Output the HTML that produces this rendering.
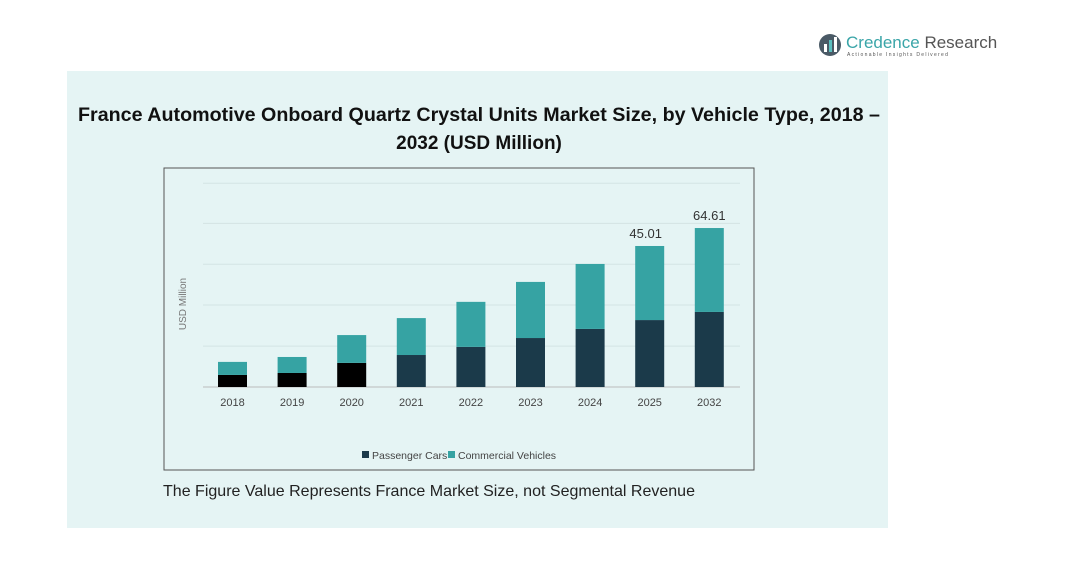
<!DOCTYPE html>
<html><head><meta charset="utf-8">
<style>
html,body{margin:0;padding:0;background:#fff;width:1081px;height:562px;overflow:hidden;font-family:"Liberation Sans",sans-serif;}
</style></head>
<body>
<svg width="1081" height="562" viewBox="0 0 1081 562" xmlns="http://www.w3.org/2000/svg">
  <g>
    <circle cx="830" cy="45" r="11" fill="#4a5a66"/>
    <rect x="824" y="44" width="3" height="8" fill="#fff"/>
    <rect x="829" y="40" width="3" height="12" fill="#5bc0c0"/>
    <rect x="834" y="37" width="3" height="15" fill="#fff"/>
    <text x="846" y="48" font-size="17" fill="#3aa5a8">Credence <tspan fill="#555">Research</tspan></text>
    <text x="847" y="56" font-size="5" fill="#555" letter-spacing="1.3">Actionable Insights Delivered</text>
  </g>
  <rect x="67" y="71" width="821" height="457" fill="#e5f4f4"/>
  <text x="479" y="121" text-anchor="middle" font-size="19" font-weight="bold" fill="#111" textLength="802" lengthAdjust="spacingAndGlyphs">France Automotive Onboard Quartz Crystal Units Market Size, by Vehicle Type, 2018 –</text>
  <text x="479" y="149" text-anchor="middle" font-size="19" font-weight="bold" fill="#111">2032 (USD Million)</text>
  <rect x="164" y="168" width="590" height="302" fill="none" stroke="#555" stroke-width="1"/>
  <text transform="translate(186,304) rotate(-90)" text-anchor="middle" font-size="10" fill="#777">USD Million</text>
  <g id="grid"></g>
  <g id="bars"></g>
  <g id="xlabels"></g>
  <g>
    <rect x="362" y="451" width="7" height="7" fill="#1b3a4a"/>
    <text x="372" y="459" font-size="10.5" fill="#444">Passenger Cars</text>
    <rect x="448" y="451" width="7" height="7" fill="#36a3a3"/>
    <text x="458" y="459" font-size="10.5" fill="#444">Commercial Vehicles</text>
  </g>
  <text x="163" y="496" font-size="16" fill="#222" textLength="532" lengthAdjust="spacingAndGlyphs">The Figure Value Represents France Market Size, not Segmental Revenue</text>
</svg>
<script>
const categories = ["2018","2019","2020","2021","2022","2023","2024","2025","2032"];
const passenger = [4.9,5.7,9.8,13.0,16.3,19.9,23.6,27.2,30.5];
const commercial = [5.3,6.5,11.3,15.0,18.3,22.8,26.4,30.1,34.1];
const valueLabels = ["","","","","","","","45.01","64.61"];
const gridTicks = [0,16.6,33.3,49.9,66.5,82.8];

const NS="http://www.w3.org/2000/svg";
const baseY=387, pxPerUnit=159/64.61, x0=232.5, step=59.6, bw=29;
function yScale(v){return baseY - v*pxPerUnit;}
function xScale(i){return x0 + i*step;}
function mk(tag,attrs,parent){const e=document.createElementNS(NS,tag);for(const k in attrs)e.setAttribute(k,attrs[k]);parent.appendChild(e);return e;}
const grid=document.getElementById('grid'), bars=document.getElementById('bars'), xl=document.getElementById('xlabels');
gridTicks.forEach((t,i)=>{
  const l=mk('line',{x1:203,x2:740,y1:yScale(t),y2:yScale(t),stroke:i===0?'#bbb':'#d3e3e3','stroke-width':1},grid);
  
  
});
categories.forEach((c,i)=>{
  const cx=xScale(i);
  const p=mk('rect',{x:cx-bw/2,y:yScale(passenger[i]),width:bw,height:passenger[i]*pxPerUnit,fill:i<3?'#000':'#1b3a4a'},bars);
  
  
  const cm=mk('rect',{x:cx-bw/2,y:yScale(passenger[i]+commercial[i]),width:bw,height:commercial[i]*pxPerUnit,fill:'#36a3a3'},bars);
  
  
  if(valueLabels[i]){
    const vt=mk('text',{x:cx-(i===7?4:0),y:yScale(passenger[i]+commercial[i])-8,'text-anchor':'middle','font-size':13,fill:'#333'},bars);
    vt.textContent=valueLabels[i];
    
    
  }
  const t=mk('text',{x:cx,y:406,'text-anchor':'middle','font-size':11,fill:'#444'},xl);
  t.textContent=c;
  
  
});
</script>
</body></html>
